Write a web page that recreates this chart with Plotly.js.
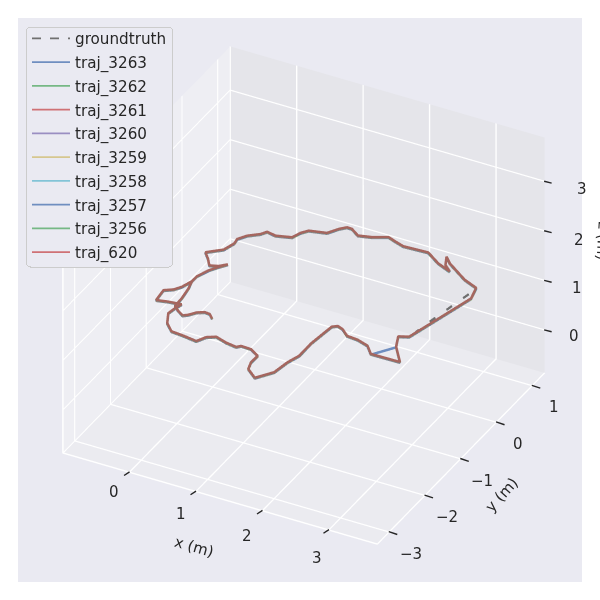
<!DOCTYPE html>
<html><head><meta charset="utf-8"><script src="https://cdn.plot.ly/plotly-3.0.1.min.js"></script>
<style>html,body{margin:0;padding:0;background:#fff}#c{width:600px;height:600px}</style></head>
<body><div id="c"></div>
<script>
const names=["groundtruth","traj_3263","traj_3262","traj_3261","traj_3260","traj_3259","traj_3258","traj_3257","traj_3256","traj_620"];
const legendColors=["#707070","#6f8ec0","#76b885","#cf7175","#9a8ec2","#d6c78f","#83c4d7","#6f8ec0","#76b885","#cf7175"];
const lineColors=["#707070","#4c72b0","#55a868","#c44e52","#8172b2","#ccb974","#64b5cd","#4c72b0","#55a868","#a5665f"];
const planeZ=[1.40,1.402,1.404,1.406,1.408,1.41,1.412,1.414,1.416,1.418];
const pathX=[.509,.430,.349,.256,.185,.126,.023,-.072,-.080,-.114,-.157,-.155,-.086,-.007,.072,-.018,-.134,-.224,-.330,-.264,-.146,-.093,
 -.110,-.031,.107,.158,.300,.514,.562,.633,.874,.965,1.044,
 1.121,1.265,1.448,1.642,1.768,1.922,2.284,2.524,2.754,2.629,2.547,2.660,3.022,3.252,3.313,3.026,
 2.894,2.986,3.208,2.773,2.640,2.457,2.287,2.162,2.066,2.004,1.985,1.953,1.955,1.893,1.850,1.687,1.509,1.465,1.469,1.316,1.162,
 1.115,.949,.765,.652,.580,.361,.177,.033,-.068,-.046,-.013,-.198,-.361,-.387,-.278,-.211,-.157];
const pathY=[-1.962,-1.879,-1.868,-1.926,-2.027,-2.076,-2.005,-1.920,-1.717,-1.465,-1.290,-1.154,-.955,-.822,-.708,-.801,-.845,-.713,-.589,-.527,-.419,-.219,
 -.111,.021,.139,.229,.197,.265,.408,.509,.573,.730,.817,
 .813,.709,.761,.865,.815,.761,.783,.613,.510,.623,.805,.685,.427,.324,.068,-1.130,
 -1.191,-1.421,-1.726,-1.733,-1.578,-1.513,-1.495,-1.382,-1.343,-1.394,-1.566,-1.880,-2.213,-2.425,-2.719,-2.958,-2.810,-2.653,-2.471,-2.372,-2.364,
 -2.416,-2.386,-2.322,-2.391,-2.537,-2.501,-2.482,-2.333,-2.116,-1.969,-1.844,-1.870,-1.912,-1.655,-1.579,-1.471,-1.290];
const gtDetourX=[3.230,3.144,3.059];
const gtDetourY=[.177,-.319,-.815];
const jumpX=[2.986,2.773];
const jumpY=[-1.421,-1.733];
const xTicks=[0,1,2,3],yTicks=[-3,-2,-1,0,1],zTicks=[0,1,2,3];
const xR=[-1,3.73],yR=[-3.33,1.35],zR=[-0.87,3.88];
const fnt={family:"DejaVu Sans",size:15,color:"#262626"};
const traces=[];
names.forEach((n,i)=>{
  let X=pathX,Y=pathY;
  if(i==0){X=pathX.slice(0,47).concat(gtDetourX,pathX.slice(48));Y=pathY.slice(0,47).concat(gtDetourY,pathY.slice(48));}
  traces.push({type:"scatter3d",mode:"lines",name:n,legendgroup:n,showlegend:false,hoverinfo:"skip",x:X,y:Y,z:X.map(()=>planeZ[i]),
   line:{color:lineColors[i],width:i==0?4.5:5,dash:i==0?"dash":"solid"}});
  traces.push({type:"scatter3d",mode:"lines",name:n,legendgroup:n,showlegend:true,hoverinfo:"skip",x:[X[0]],y:[Y[0]],z:[planeZ[i]],
   line:{color:legendColors[i],width:1.8,dash:i==0?"dash":"solid"}});
});
traces.push({type:"scatter3d",mode:"lines",showlegend:false,hoverinfo:"skip",x:jumpX,y:jumpY,z:jumpX.map(()=>planeZ[1]),line:{color:"#6f8ec0",width:5}});
const ax=(r,bg)=>({title:{text:""},range:r,autorange:false,showticklabels:false,ticks:"",showbackground:true,backgroundcolor:bg,gridcolor:"#fff",gridwidth:3,showline:true,linecolor:"#fff",linewidth:3,zeroline:false,showspikes:false});
const lab=(x,y,z,t,xs,ys,extra)=>Object.assign({x,y,z,text:t,showarrow:false,xshift:xs,yshift:-ys,font:fnt},extra||{});
const tick=(x,y,z,a,b)=>({x,y,z,text:" ",showarrow:true,arrowhead:0,arrowwidth:1.4,arrowcolor:"#262626",ax:a,ay:b,font:{size:1},borderpad:0,standoff:0,startstandoff:0});
const fmt=v=>v<0?"\u2212"+(-v):""+v;
const yIn=yR[0]+0.005,xIn=xR[1]-0.005,zIn=zR[0]+0.005,yTop=yR[1]-0.005;
const annos=[];
const xNudge=[[-16,20],[-15,23],[-15,26],[-12,28]];
const zNudge=[[30,6],[33,8],[35,9],[38,8]];
xTicks.forEach((v,i)=>{annos.push(tick(v,yIn,zIn,-6,4));annos.push(lab(v,yIn,zIn,fmt(v),xNudge[i][0],xNudge[i][1]));});
yTicks.forEach(v=>{annos.push(tick(xIn,v,zIn,9,3));annos.push(lab(xIn,v,zIn,fmt(v),22,22));});
zTicks.forEach((v,i)=>{annos.push(tick(xIn,yTop,v,8,2));annos.push(lab(xIn,yTop,v,fmt(v),zNudge[i][0],zNudge[i][1]));});
annos.push(lab(1.365,yIn,zIn,"x (m)",-26,49,{textangle:16}));
annos.push(lab(xIn,-0.99,zIn,"y (m)",41,37,{textangle:-48}));
annos.push(lab(xIn,yTop,1.5,"z (m)",59,-15,{textangle:93}));
const cx=-0.0118,cy=-0.0063,cz=-0.02;
const layout={width:600,height:600,paper_bgcolor:"#fff",margin:{l:0,r:0,t:0,b:0},
 scene:{domain:{x:[0.03,0.97],y:[0.03,0.97]},bgcolor:"#eaeaf2",aspectmode:"manual",aspectratio:{x:1.263,y:1.263,z:0.995},
  camera:{projection:{type:"orthographic"},eye:{x:0.3941*2+cx,y:-0.7405*2+cy,z:0.5446*2+cz},center:{x:cx,y:cy,z:cz},up:{x:0,y:0,z:1}},
  xaxis:ax(xR,"#eeeef3"),yaxis:ax(yR,"#e5e5ea"),zaxis:ax(zR,"#ebebf0"),annotations:annos},
 legend:{x:26/600,y:1-21/600,xanchor:"left",yanchor:"top",bgcolor:"#eaeaf2",bordercolor:"#cccccc",borderwidth:1,font:{family:"DejaVu Sans",size:15.2,color:"#262626"},tracegroupgap:1,itemwidth:38},
 showlegend:true};
Plotly.newPlot("c",traces,layout,{displayModeBar:false}).then(()=>{
  const bg=document.querySelector(".legend .bg");
  if(bg){bg.setAttribute("y","6");bg.setAttribute("height","240");bg.setAttribute("width","146");bg.setAttribute("rx","4");bg.setAttribute("ry","4");}
});
</script></body></html>
